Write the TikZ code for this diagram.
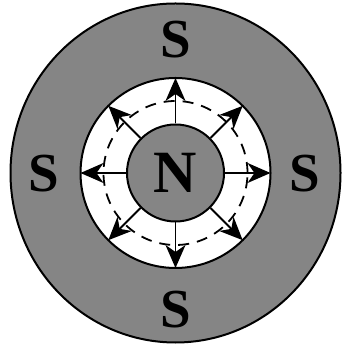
\documentclass[tikz,border=0pt]{standalone}
\usepackage{fontspec}
\newfontfamily\timesfont{Liberation Serif}
\usetikzlibrary{arrows.meta,calc}
\definecolor{texgray}{gray}{0.52}
\tikzset{
  ringline/.style={line width=2pt, draw=black},
  ray/.style={line width=1.8pt, -{Stealth[length=23pt,width=20pt,inset=7pt,fill=black]}},
  pole/.style={font=\timesfont\bfseries\fontsize{55}{55}\selectfont, inner sep=0pt},
}
\begin{document}
\begin{tikzpicture}[x=1pt,y=1pt]
\useasboundingbox (0,0) rectangle (342,344);
\coordinate (c) at (175.5,171);
% outer gray ring
\draw[ringline, fill=texgray] (c) ellipse [x radius=165, y radius=169.5];
% white ring
\draw[ringline, fill=white] (c) circle [radius=95];
% dashed circle
\draw[line width=1.8pt, dash pattern=on 11pt off 8pt] (c) circle [radius=72];
% inner N pole
\node[ringline, circle, fill=texgray, minimum size=97pt, inner sep=0pt,
      font=\timesfont\bfseries\fontsize{60}{60}\selectfont] (N) at (c) {N};
% rays
\foreach \a in {0,45,...,315} {
  \coordinate (t\a) at ($(c)+(\a:95)$);
  \draw[ray] (N.\a) -- (t\a);
}
% S labels
\node[pole] (St) at (176,304) {S};
\node[pole] (Sb) at (176,34) {S};
\node[pole] (Sl) at (44,170) {S};
\node[pole] (Sr) at (305,170) {S};
\end{tikzpicture}
\end{document}
